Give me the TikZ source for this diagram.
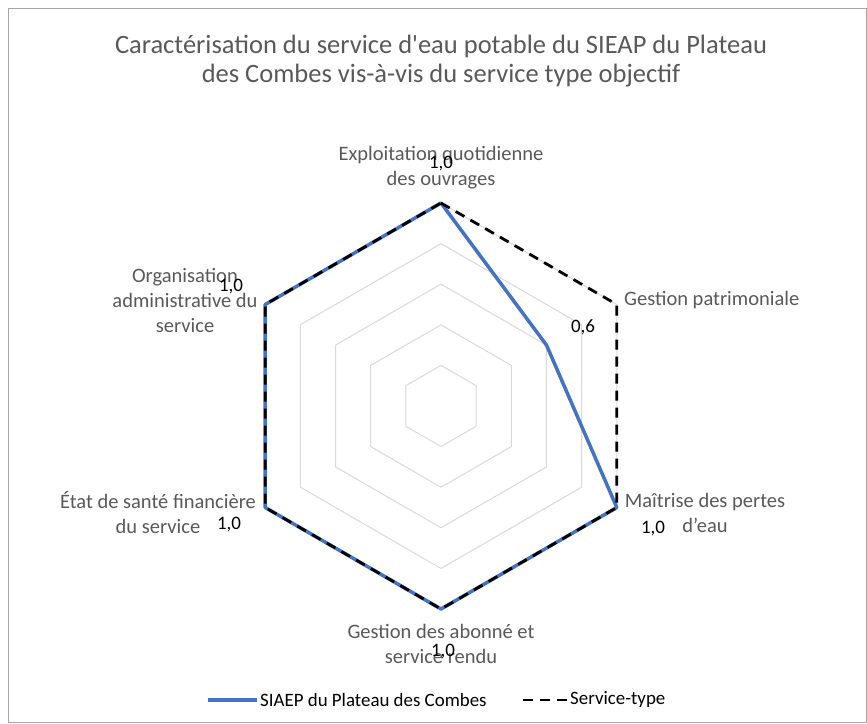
\documentclass[tikz,border=0pt]{standalone}
\usepackage{fontspec}
\setmainfont{Carlito}
\definecolor{txtgrey}{HTML}{595959}
\definecolor{gridgrey}{HTML}{D9D9D9}
\definecolor{framegrey}{HTML}{A6A6A6}
\definecolor{serieblue}{HTML}{4472C4}
\begin{document}
\begin{tikzpicture}[x=1pt,y=-1pt,
  titletext/.style={text=txtgrey, font=\fontsize{26.5}{30}\selectfont, inner sep=0pt},
  axlabel/.style={text=txtgrey, font=\fontsize{20.5}{25}\selectfont, align=center, inner sep=0pt},
  vallabel/.style={text=black, font=\fontsize{19}{22}\selectfont, inner sep=0pt},
  legtext/.style={text=black, font=\fontsize{18.9}{22}\selectfont, inner sep=0pt, anchor=west},
  gridline/.style={draw=gridgrey, line width=1pt},
  seriesline/.style={draw=serieblue, line width=3.5pt, line join=round},
  typeline/.style={draw=black, line width=2.8pt, dash pattern=on 10pt off 7pt}]
\useasboundingbox (0,0) rectangle (867,723);
\draw[framegrey, line width=1pt] (8.5,8.5) rectangle (866,722);

% title
\node[titletext] (t1) at (441,46) {Caractérisation du service d\textquotesingle eau potable du SIEAP du Plateau};
\node[titletext] (t2) at (441,76) {des Combes vis-à-vis du service type objectif};

% grid coordinates: axis k, level f (0.2 steps)
\foreach \k in {0,...,5}{
  \foreach \f in {1,...,5}{
    \coordinate (g\k-\f) at ({441+\f*40.6*cos(90-60*\k)}, {406-\f*40.6*sin(90-60*\k)});
  }
}
\foreach \f in {1,...,5}{
  \draw[gridline] (g0-\f) -- (g1-\f) -- (g2-\f) -- (g3-\f) -- (g4-\f) -- (g5-\f) -- cycle;
}

% series
\draw[seriesline] (g0-5) -- (g1-3) -- (g2-5) -- (g3-5) -- (g4-5) -- (g5-5) -- cycle;
\draw[typeline] (g0-5) -- (g1-5) -- (g2-5) -- (g3-5) -- (g4-5) -- (g5-5) -- cycle;

% axis labels
\node[axlabel] (l0) at (441,168) {Exploitation quotidienne\\des ouvrages};
\node[axlabel, anchor=west] (l1) at (624,300) {Gestion patrimoniale};
\node[axlabel] (l2) at (705,513) {Maîtrise des pertes\\d’eau};
\node[axlabel] (l3) at (441,644) {Gestion des abonné et\\service rendu};
\node[axlabel] (l4) at (158,513) {État de santé financière\\du service};
\node[axlabel] (l5) at (185,300) {Organisation\\administrative du\\service};

% value labels
\node[vallabel] (v0) at (441,164) {1,0};
\node[vallabel] (v1) at (583,327) {0,6};
\node[vallabel] (v2) at (653,529) {1,0};
\node[vallabel] (v3) at (443,652) {1,0};
\node[vallabel] (v4) at (229,525) {1,0};
\node[vallabel] (v5) at (231,287) {1,0};

% legend
\coordinate (la) at (208,700);
\coordinate (lb) at (257,700);
\draw[seriesline] (la) -- (lb);
\node[legtext] (leg1) at (260,700) {SIAEP du Plateau des Combes};
\coordinate (lc) at (523,700);
\coordinate (ld) at (567,700);
\draw[typeline] (lc) -- (ld);
\node[legtext] (leg2) at (570,700) {Service-type};
\end{tikzpicture}
\end{document}
